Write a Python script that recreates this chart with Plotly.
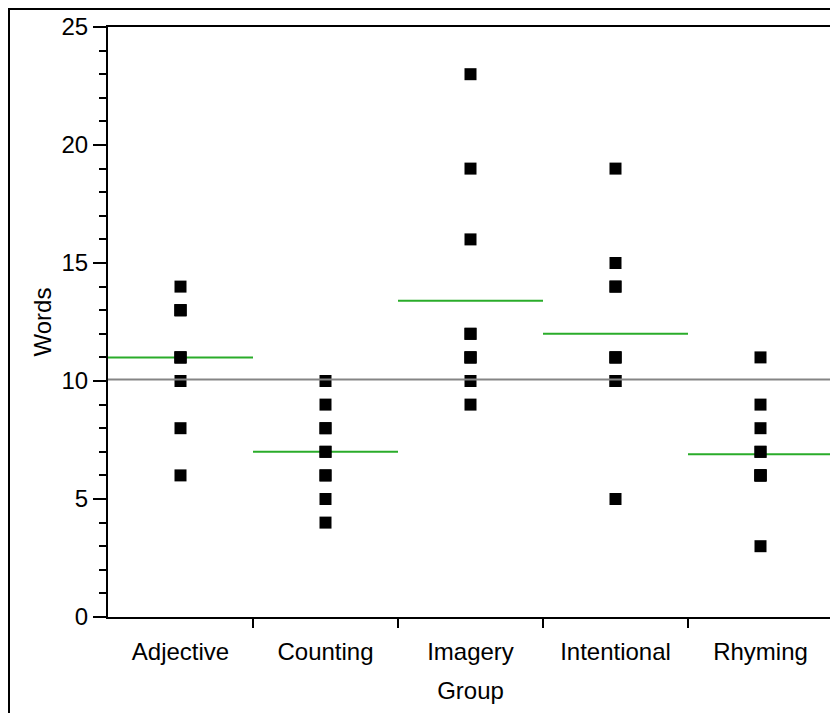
import plotly.graph_objects as go

groups = ["Adjective", "Counting", "Imagery", "Intentional", "Rhyming"]
adjective = [11, 13, 8, 6, 14, 11, 13, 13, 10, 11]
counting = [9, 8, 6, 8, 10, 4, 6, 5, 7, 7]
imagery = [12, 11, 16, 11, 9, 23, 12, 10, 19, 11]
intentional = [10, 19, 14, 5, 10, 11, 14, 15, 11, 11]
rhyming = [7, 9, 6, 6, 6, 11, 6, 3, 8, 7]
series = [adjective, counting, imagery, intentional, rhyming]
y_ticks = [0, 5, 10, 15, 20, 25]

FONT = "Liberation Sans, Arial, sans-serif"
FS = 24
fig = go.Figure()

all_vals = [v for s in series for v in s]
grand = sum(all_vals) / len(all_vals)
n = len(groups)

# overall mean line (on the overlay axis which also carries boundary ticks)
fig.add_trace(go.Scatter(x=[-0.5, n - 0.5], y=[grand, grand], mode="lines",
                         line=dict(color="#858585", width=2), xaxis="x2",
                         hoverinfo="skip", showlegend=False))

# group mean lines
for i, s in enumerate(series):
    m = sum(s) / len(s)
    fig.add_trace(go.Scatter(x=[i - 0.5, i + 0.5], y=[m, m], mode="lines",
                             line=dict(color="#2aac2a", width=2),
                             showlegend=False, hoverinfo="skip"))

# points
for i, s in enumerate(series):
    fig.add_trace(go.Scatter(x=[i] * len(s), y=s, mode="markers",
                             marker=dict(symbol="square", size=12, color="black",
                                         line=dict(width=0)),
                             showlegend=False, name=groups[i]))

# the page body adds an 8px offset; figure coords below account for it
W, H = 838, 713
L, T, R, B = 100, 19, 13, 104
pw, ph = W - L - R, H - T - B

fig.update_layout(
    width=W, height=H,
    margin=dict(l=L, r=R, t=T, b=B, autoexpand=False),
    paper_bgcolor="white", plot_bgcolor="white",
    font=dict(family=FONT, size=FS, color="black"),
    xaxis=dict(range=[-0.5, n - 0.5], tickvals=list(range(n)), ticktext=groups,
               ticks="outside", ticklen=12, tickcolor="rgba(0,0,0,0)",
               showgrid=False, zeroline=False, showline=True, linecolor="black",
               linewidth=2, mirror=True, automargin=False,
               title=dict(text="Group", standoff=18, font=dict(size=FS)),
               tickfont=dict(size=FS)),
    xaxis2=dict(range=[-0.5, n - 0.5], overlaying="x", anchor="y", side="bottom",
                tickvals=[i + 0.5 for i in range(n - 1)], ticks="outside",
                ticklen=10, tickwidth=2, tickcolor="black", showticklabels=False,
                showgrid=False, zeroline=False, showline=False, automargin=False),
    yaxis=dict(range=[0, 25], tickvals=y_ticks, ticks="outside", ticklen=13,
               tickwidth=1.5, tickcolor="black",
               minor=dict(ticks="outside", ticklen=7, dtick=1, tickwidth=1.5,
                          tickcolor="black", showgrid=False),
               showgrid=False, zeroline=False, showline=True, linecolor="black",
               linewidth=2, mirror=True, automargin=False,
               title=dict(text="Words", standoff=3, font=dict(size=FS)),
               tickfont=dict(size=FS)),
    shapes=[dict(type="rect", xref="paper", yref="paper",
                 x0=(1 - L) / pw, x1=(W + 20 - L) / pw,
                 y0=(ph + T - (H + 20)) / ph, y1=(ph + T - 1) / ph,
                 line=dict(color="black", width=2), fillcolor="rgba(0,0,0,0)",
                 layer="below")],
)

fig.write_html("out.html")
